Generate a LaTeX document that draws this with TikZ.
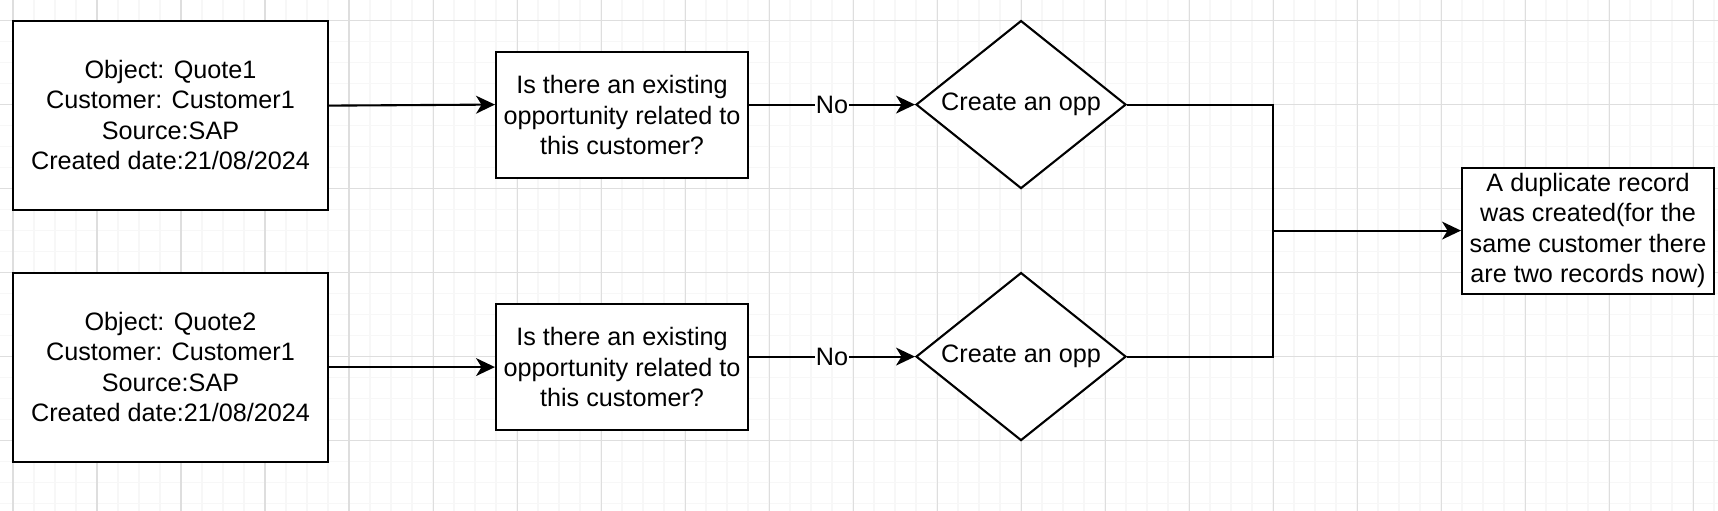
\documentclass[tikz,border=0pt]{standalone}
\usepackage{fontspec}
\setmainfont{Liberation Sans}
\usetikzlibrary{arrows.meta,shapes.geometric}

\definecolor{gridminor}{HTML}{F7F7F7}
\definecolor{gridmajor}{HTML}{DEDEDE}

\tikzset{
  box/.style={draw, line width=1pt, fill=white, align=center, inner sep=0pt,
    font=\fontsize{12}{14.4}\selectfont},
  oppdiamond/.style={draw, diamond, aspect=1.25, line width=1pt, fill=white, inner sep=0pt,
    minimum width=100pt, minimum height=80pt, font=\fontsize{12}{14.4}\selectfont},
  flow/.style={line width=1pt, -{Stealth[length=9pt, width=8.5pt, inset=2.6pt]}},
}

\begin{document}
\begin{tikzpicture}[line join=miter, x=1pt, y=-1pt]
  \useasboundingbox[fill=white] (-6.2,-9.8) rectangle (811.9,233.5);
  % background grid
  \foreach \x in {0,10,...,810} {
    \draw[gridminor, line width=0.8pt] (\x,-9.8) -- (\x,233.5);
  }
  \foreach \y in {0,10,...,230} {
    \draw[gridminor, line width=0.8pt] (-6.2,\y) -- (811.9,\y);
  }
  \foreach \x in {0,40,...,800} {
    \draw[gridmajor, line width=0.5pt] (\x,-9.8) -- (\x,233.5);
  }
  \foreach \y in {0,40,...,200} {
    \draw[gridmajor, line width=0.5pt] (-6.2,\y) -- (811.9,\y);
  }

  % quotes
  \node[box, minimum width=150pt, minimum height=90pt] (quote1) at (75,45)
    {Object: Quote1\\Customer: Customer1\\Source:SAP\\Created date:21/08/2024};
  \node[box, minimum width=150pt, minimum height=90pt] (quote2) at (75,165)
    {Object: Quote2\\Customer: Customer1\\Source:SAP\\Created date:21/08/2024};

  % checks
  \node[box, minimum width=120pt, minimum height=60pt] (ask1) at (290,45)
    {Is there an existing\\opportunity related to\\this customer?};
  \node[box, minimum width=120pt, minimum height=60pt] (ask2) at (290,165)
    {Is there an existing\\opportunity related to\\this customer?};

  % create opp
  \node[oppdiamond] (opp1) at (480,40) {Create an opp};
  \node[oppdiamond] (opp2) at (480,160) {Create an opp};

  % result
  \node[box, minimum width=120pt, minimum height=60pt] (dup) at (750,100)
    {A duplicate record\\was created(for the\\same customer there\\are two records now)};
  \coordinate (join) at (600,100);

  % connectors
  \draw[flow] ([yshift=4.5pt]quote1.east) -- ([yshift=5pt]ask1.west);
  \draw[flow] (quote2.east) -- (ask2.west);
  \draw[flow] ([yshift=5pt]ask1.east) -- node[fill=white, inner sep=0.5pt,
    font=\fontsize{12}{14.4}\selectfont] {No} (opp1.west);
  \draw[flow] ([yshift=5pt]ask2.east) -- node[fill=white, inner sep=0.5pt,
    font=\fontsize{12}{14.4}\selectfont] {No} (opp2.west);
  \draw[line width=1pt] (opp1.east) -| (join |- opp2.east) -- (opp2.east);
  \draw[flow] (join) -- (dup.west);
\end{tikzpicture}
\end{document}
